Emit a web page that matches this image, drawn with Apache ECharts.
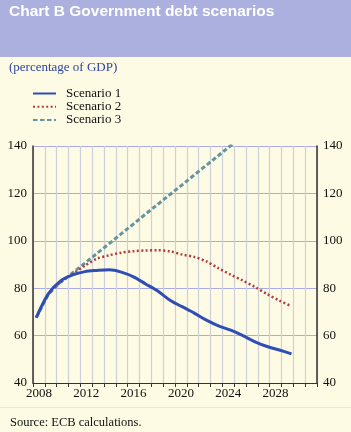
<!DOCTYPE html>
<html>
<head>
<meta charset="utf-8">
<script src="https://cdn.jsdelivr.net/npm/echarts@6/dist/echarts.min.js"></script>
<style>
  html, body { margin: 0; padding: 0; background: #fdfbe4; }
  #chart { width: 351px; height: 432px; }
</style>
</head>
<body>
<div id="chart"></div>
<script>
// categories on the visible axis (one band per year)
var yearBands = [];
for (var y = 2008; y <= 2031; y++) yearBands.push(String(y));

// years of the plotted values
var years = [2008, 2009, 2010, 2011, 2012, 2013, 2014, 2015, 2016, 2017, 2018,
             2019, 2020, 2021, 2022, 2023, 2024, 2025, 2026, 2027, 2028, 2029];

var scenario1 = [67.6, 77.7, 83.1, 85.6, 87.0, 87.5, 87.8, 86.8, 84.8, 81.8, 78.8,
                 74.9, 72.2, 69.5, 66.5, 64.1, 62.3, 60.0, 57.4, 55.4, 53.9, 52.3];
var scenario2 = [67.6, 77.5, 82.5, 86.0, 89.5, 92.5, 93.9, 95.0, 95.6, 95.9, 96.0,
                 95.6, 94.2, 93.2, 91.3, 88.4, 85.7, 83.2, 80.5, 77.5, 74.8, 72.4];
var scenario3 = [67.6, 77.5, 82.5, 86.5, 90.6, 94.7, 98.8, 103.0, 107.1, 111.3, 115.4,
                 119.5, 123.6, 127.8, 131.9, 136.0, 140.2, 144.3];

var yTicks = { min: 40, max: 140, step: 20 };

function pairs(vals) {
  return vals.map(function (v, i) { return [years[i], v]; });
}

var serif = '"Liberation Serif", "DejaVu Serif", serif';
var myChart = echarts.init(document.getElementById('chart'), null, { renderer: 'canvas' });

var option = {
  backgroundColor: '#fdfbe4',
  animation: false,
  graphic: [
    { type: 'rect', left: 0, top: 0, shape: { width: 351, height: 57 }, style: { fill: '#acb0de' } },
    { type: 'text', left: 9, top: 4,
      style: { text: 'Chart B Government debt scenarios', fill: '#ffffff',
               font: 'bold 15.5px "Liberation Sans", Arial, sans-serif' } },
    { type: 'text', left: 9, top: 61,
      style: { text: '(percentage of GDP)', fill: '#3043a0', font: '13px ' + serif } },
    { type: 'rect', left: 0, top: 407, shape: { width: 351, height: 1 }, style: { fill: '#ebe8d2' } },
    { type: 'text', left: 10, top: 416,
      style: { text: 'Source: ECB calculations.', fill: '#111111', font: '12.5px ' + serif } }
  ],
  legend: {
    orient: 'vertical',
    left: 32,
    top: 87,
    padding: 0,
    itemWidth: 23,
    itemHeight: 14,
    itemGap: 0.2,
    itemStyle: { opacity: 0 },
    textStyle: { fontFamily: serif, fontSize: 13, color: '#111', padding: [0, 0, 0, 5] },
    data: ['Scenario 1', 'Scenario 2', 'Scenario 3']
  },
  grid: { left: 33, right: 34, top: 146, bottom: 49 },
  xAxis: [
    {
      type: 'category',
      data: yearBands,
      boundaryGap: true,
      axisLine: { lineStyle: { color: '#333', width: 1.2 } },
      axisTick: { show: true, interval: 0, length: 4, lineStyle: { color: '#333' } },
      axisLabel: { interval: 3, fontFamily: serif, fontSize: 13, color: '#111', margin: 4 },
      splitLine: { show: true, interval: 0, lineStyle: { color: '#cfcfd9', width: 1.2 } }
    },
    {
      type: 'value',
      min: 2007.73,
      max: 2031.1,
      show: false
    }
  ],
  yAxis: [
    {
      type: 'value', min: yTicks.min, max: yTicks.max, interval: yTicks.step,
      position: 'left',
      axisLine: { show: true, lineStyle: { color: '#333', width: 1.5 } },
      axisTick: { show: false },
      axisLabel: { fontFamily: serif, fontSize: 13, color: '#111', margin: 6 },
      splitLine: { lineStyle: { color: '#aaaae6', width: 1 } }
    },
    {
      type: 'value', min: yTicks.min, max: yTicks.max, interval: yTicks.step,
      position: 'right',
      axisLine: { show: true, lineStyle: { color: '#333', width: 1.5 } },
      axisTick: { show: false },
      axisLabel: { fontFamily: serif, fontSize: 13, color: '#111', margin: 6 },
      splitLine: { show: false }
    }
  ],
  series: [
    {
      name: 'Scenario 3', type: 'line', xAxisIndex: 1, yAxisIndex: 0,
      data: pairs(scenario3), symbol: 'none', smooth: false, clip: true,
      color: '#6494a0',
      lineStyle: { color: '#6494a0', width: 3, type: [4.5, 2.5] },
      z: 2
    },
    {
      name: 'Scenario 2', type: 'line', xAxisIndex: 1, yAxisIndex: 0,
      data: pairs(scenario2), symbol: 'none', smooth: 0.3,
      color: '#b23c3c',
      lineStyle: { color: '#b23c3c', width: 2.5, type: [2, 2.4] },
      z: 3
    },
    {
      name: 'Scenario 1', type: 'line', xAxisIndex: 1, yAxisIndex: 0,
      data: pairs(scenario1), symbol: 'none', smooth: 0.3,
      color: '#2f4db4',
      lineStyle: { color: '#2f4db4', width: 3 },
      z: 4
    }
  ]
};
myChart.setOption(option);
</script>
</body>
</html>
